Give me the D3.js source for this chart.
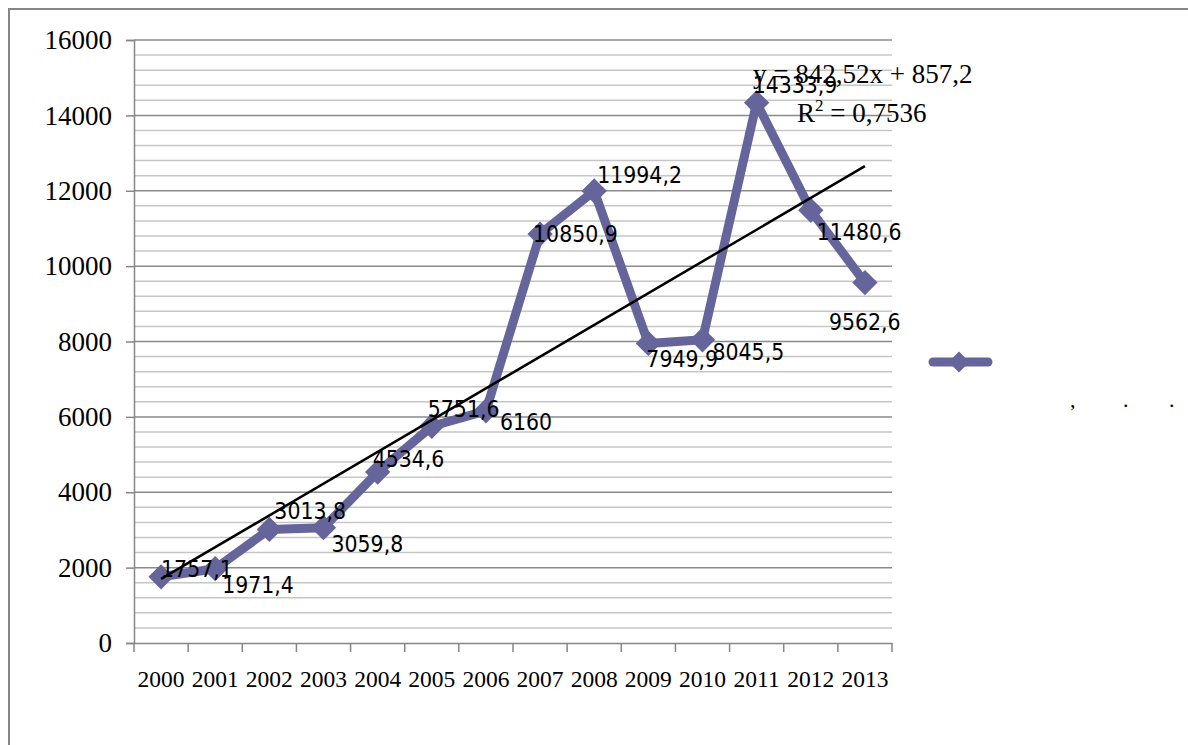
<!DOCTYPE html>
<html>
<head>
<meta charset="utf-8">
<script src="https://cdn.jsdelivr.net/npm/d3@7/dist/d3.min.js"></script>
<style>
  html, body { margin: 0; padding: 0; background: #fff; }
  svg { display: block; }
</style>
</head>
<body>
<svg id="chart" width="1188" height="745"></svg>
<script>
// ---- data ----
const years = ["2000","2001","2002","2003","2004","2005","2006","2007","2008","2009","2010","2011","2012","2013"];
const values = [1757.1, 1971.4, 3013.8, 3059.8, 4534.6, 5751.6, 6160, 10850.9, 11994.2, 7949.9, 8045.5, 14333.9, 11480.6, 9562.6];
const valueLabels = ["1757,1","1971,4","3013,8","3059,8","4534,6","5751,6","6160","10850,9","11994,2","7949,9","8045,5","14333,9","11480,6","9562,6"];
const yTicks = [0, 2000, 4000, 6000, 8000, 10000, 12000, 14000, 16000];
const trendSlope = 842.52;
const trendIntercept = 857.2;
const trendEquation = "y = 842,52x + 857,2";
const trendR2 = "0,7536";

// ---- layout (label placement offsets relative to point, px) ----
const labelOffsets = [
  [0, 0], [7, 24], [5, -10], [8, 24], [-5, -5], [-4, -9], [14, 19],
  [-7, 8], [3, -8], [-2, 24], [10, 20], [-4, -10], [6, 30], [-36, 47]
];

const svg = d3.select("#chart");
const pLeft = 134, pRight = 892, pTop = 40, pBottom = 643;
const x = d3.scaleBand().domain(years).range([pLeft, pRight]).padding(0);
const y = d3.scaleLinear().domain([0, 16000]).range([pBottom, pTop]);
const cx = d => x(d) + x.bandwidth() / 2;
const lineColor = "#65659b";

// outer border
svg.append("rect").attr("x", 9).attr("y", 9).attr("width", 1200).attr("height", 760)
  .attr("fill", "none").attr("stroke", "#868686").attr("stroke-width", 2);

// minor gridlines
const minor = d3.range(0, 16001, 400).filter(v => v % 2000 !== 0);
svg.append("g").selectAll("line").data(minor).join("line")
  .attr("x1", pLeft).attr("x2", pRight)
  .attr("y1", d => y(d)).attr("y2", d => y(d))
  .attr("stroke", "#c6c6c6").attr("stroke-width", 1.5);

// major gridlines
svg.append("g").selectAll("line").data(yTicks.filter(v => v > 0)).join("line")
  .attr("x1", pLeft).attr("x2", pRight)
  .attr("y1", d => y(d)).attr("y2", d => y(d))
  .attr("stroke", "#8a8a8a").attr("stroke-width", 1.5);

// y axis
const yAxis = d3.axisLeft(y).tickValues(yTicks).tickSize(8).tickPadding(14).tickFormat(d3.format("d"));
const gy = svg.append("g").attr("transform", `translate(${pLeft},0)`).call(yAxis);
gy.select(".domain").attr("stroke", "#868686").attr("stroke-width", 1.5);
gy.selectAll(".tick line").attr("stroke", "#868686").attr("stroke-width", 1.5);
gy.selectAll(".tick text").attr("font-family", "Liberation Serif, serif").attr("font-size", 27).attr("fill", "#000");

// x axis
const xAxis = d3.axisBottom(x).tickSize(0).tickPadding(0);
const gx = svg.append("g").attr("transform", `translate(0,${pBottom})`).call(xAxis);
gx.select(".domain").attr("stroke", "#868686").attr("stroke-width", 1.5);
gx.selectAll(".tick text").attr("font-family", "Liberation Serif, serif").attr("font-size", 23.5)
  .attr("fill", "#000").attr("dy", null).attr("y", 44);
// category boundary ticks
const bounds = years.map(d => x(d)).concat([pRight]);
svg.append("g").selectAll("line").data(bounds).join("line")
  .attr("x1", d => d).attr("x2", d => d).attr("y1", pBottom).attr("y2", pBottom + 9)
  .attr("stroke", "#868686").attr("stroke-width", 1.5);

// series line
const pts = years.map((d, i) => ({ year: d, v: values[i], i }));
const line = d3.line().x(d => cx(d.year)).y(d => y(d.v));
svg.append("path").datum(pts).attr("d", line)
  .attr("fill", "none").attr("stroke", lineColor).attr("stroke-width", 9)
  .attr("stroke-linejoin", "round").attr("stroke-linecap", "round");

// markers (diamonds)
const diamond = d3.symbol().type(d3.symbolSquare).size(320);
svg.append("g").selectAll("path").data(pts).join("path")
  .attr("d", diamond)
  .attr("transform", d => `translate(${cx(d.year)},${y(d.v)}) rotate(45)`)
  .attr("fill", lineColor);

// trend line
const trend = [1, years.length].map(k => ({ year: years[k - 1], v: trendIntercept + trendSlope * k }));
svg.append("path").datum(trend).attr("d", line)
  .attr("fill", "none").attr("stroke", "#000").attr("stroke-width", 2.5);

// data labels (slightly taller glyphs as in reference)
svg.append("g").selectAll("text").data(pts).join("text")
  .attr("transform", d => `translate(${cx(d.year) + labelOffsets[d.i][0]},${y(d.v) + labelOffsets[d.i][1]}) scale(1,1.15)`)
  .attr("font-family", "DejaVu Sans, sans-serif").attr("font-size", 20.5).attr("fill", "#000")
  .text(d => valueLabels[d.i]);

// trend equation
svg.append("text").attr("x", 753).attr("y", 83)
  .attr("font-family", "Liberation Serif, serif").attr("font-size", 27).attr("fill", "#000")
  .text(trendEquation);
const r2 = svg.append("text").attr("x", 797).attr("y", 122)
  .attr("font-family", "Liberation Serif, serif").attr("font-size", 27).attr("fill", "#000");
r2.append("tspan").text("R");
r2.append("tspan").attr("dy", -11).attr("font-size", 17).text("2");
r2.append("tspan").attr("dy", 11).text(" = " + trendR2);

// legend
const lg = svg.append("g");
lg.append("line").attr("x1", 933).attr("x2", 988).attr("y1", 362).attr("y2", 362)
  .attr("stroke", lineColor).attr("stroke-width", 9).attr("stroke-linecap", "round");
lg.append("path").attr("d", d3.symbol().type(d3.symbolSquare).size(220))
  .attr("transform", "translate(959,362) rotate(45)").attr("fill", lineColor);
const legendMarks = [[1070, ","], [1123, "."], [1169, "."]];
lg.selectAll("text").data(legendMarks).join("text")
  .attr("x", d => d[0]).attr("y", 407)
  .attr("font-family", "Liberation Serif, serif").attr("font-size", 22).attr("fill", "#000")
  .text(d => d[1]);
</script>
</body>
</html>
